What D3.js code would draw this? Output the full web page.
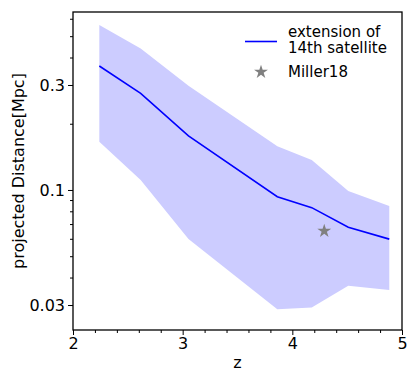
<!DOCTYPE html>
<html><head><meta charset="utf-8">
<script src="https://cdn.jsdelivr.net/npm/d3@7"></script>
<style>body{margin:0;background:#fff}svg{display:block}text{font-family:"DejaVu Sans",sans-serif}</style>
</head><body><svg id="c" width="415" height="380"></svg>
<script>
const zVals = [2.24, 2.617, 3.053, 3.863, 4.177, 4.510, 4.884];
const median = [0.366, 0.275, 0.176, 0.0932, 0.0831, 0.0677, 0.0598];
const upper = [0.562, 0.440, 0.298, 0.158, 0.1368, 0.0989, 0.0846];
const lower = [0.1657, 0.111, 0.0598, 0.0287, 0.0292, 0.0367, 0.0351];
const miller = [{z: 4.291, d: 0.0651}];
const xTicks = [2, 3, 4, 5];
const yTicks = [0.03, 0.1, 0.3];
const yMinor = [0.03,0.04,0.05,0.06,0.07,0.08,0.09,0.2,0.4,0.5,0.6];
const xMinor = d3.range(2, 5.001, 0.2).map(v => +v.toFixed(1)).filter(v => !xTicks.includes(v));

const svg = d3.select("#c");
const L = 73, R = 402, T = 12, B = 330;
const x = d3.scaleLinear().domain([2, 5]).range([L, R]);
const y = d3.scaleLog().domain([0.0231, 0.644]).range([B, T]);

const band = zVals.map((z, i) => ({z, lo: lower[i], hi: upper[i], m: median[i]}));
svg.append("path").datum(band)
  .attr("d", d3.area().x(d => x(d.z)).y0(d => y(d.lo)).y1(d => y(d.hi)))
  .attr("fill", "#ccccff");
svg.append("path").datum(band)
  .attr("d", d3.line().x(d => x(d.z)).y(d => y(d.m)))
  .attr("fill", "none").attr("stroke", "#0000ff").attr("stroke-width", 1.6);

const star = d3.symbol().type(d3.symbolStar).size(60);
svg.selectAll(".mill").data(miller).join("path")
  .attr("d", star).attr("transform", d => `translate(${x(d.z)},${y(d.d)})`)
  .attr("fill", "#808080");

// axes
const xAx = svg.append("g").attr("transform", `translate(0,${B})`)
  .call(d3.axisBottom(x).tickValues(xTicks).tickFormat(d3.format("d")).tickSize(5).tickPadding(3));
const xAxM = svg.append("g").attr("transform", `translate(0,${B})`)
  .call(d3.axisBottom(x).tickValues(xMinor).tickFormat("").tickSize(3));
const yAx = svg.append("g").attr("transform", `translate(${L},0)`)
  .call(d3.axisLeft(y).tickValues(yTicks).tickFormat(d => String(d)).tickSize(5).tickPadding(3));
const yAxM = svg.append("g").attr("transform", `translate(${L},0)`)
  .call(d3.axisLeft(y).tickValues(yMinor).tickFormat("").tickSize(3));
[xAx, xAxM, yAx, yAxM].forEach(g => {
  g.select(".domain").remove();
  g.selectAll("line").attr("stroke", "#000").attr("stroke-width", 1);
  g.selectAll("text").attr("font-size", 16).attr("fill", "#000").attr("font-family", "DejaVu Sans");
});
svg.append("rect").attr("x", L).attr("y", T).attr("width", R - L).attr("height", B - T)
  .attr("fill", "none").attr("stroke", "#000").attr("stroke-width", 1.3);

// labels
svg.append("text").attr("x", (L + R) / 2).attr("y", 368).attr("text-anchor", "middle")
  .attr("font-size", 16).text("z");
svg.append("text").attr("transform", `translate(24,${(T + B) / 2}) rotate(-90)`)
  .attr("text-anchor", "middle").attr("font-size", 16).text("projected Distance[Mpc]");

// legend
const lg = svg.append("g");
lg.append("line").attr("x1", 245).attr("x2", 277).attr("y1", 41.5).attr("y2", 41.5)
  .attr("stroke", "#0000ff").attr("stroke-width", 1.6);
lg.append("text").attr("x", 288).attr("y", 37).attr("font-size", 15).text("extension of");
lg.append("text").attr("x", 288).attr("y", 53).attr("font-size", 15).text("14th satellite");
lg.append("path").attr("d", star).attr("transform", "translate(261,72)").attr("fill", "#808080");
lg.append("text").attr("x", 288).attr("y", 77).attr("font-size", 15).text("Miller18");
</script></body></html>
